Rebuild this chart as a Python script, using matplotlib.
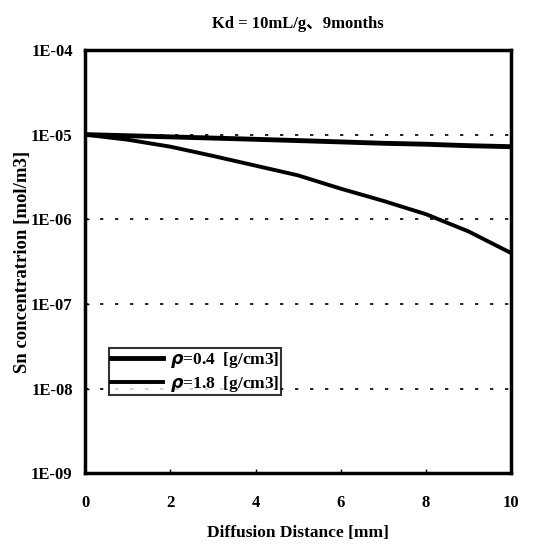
import numpy as np
import matplotlib
matplotlib.use('Agg')
import matplotlib.pyplot as plt
from matplotlib.ticker import FixedLocator, FixedFormatter, NullLocator

plt.rcParams['font.family'] = ['Liberation Serif', 'Noto Sans CJK JP', 'DejaVu Sans']
plt.rcParams['font.weight'] = 'bold'

# data
dist = [0, 1, 2, 3, 4, 5, 6, 7, 8, 9, 10]
conc_04 = [1.0e-5, 9.7e-6, 9.4e-6, 9.1e-6, 8.8e-6, 8.5e-6, 8.2e-6, 7.9e-6, 7.7e-6, 7.4e-6, 7.2e-6]
conc_18 = [1.0e-5, 8.7e-6, 7.2e-6, 5.6e-6, 4.3e-6, 3.3e-6, 2.3e-6, 1.65e-6, 1.15e-6, 7.2e-7, 4.0e-7]
label_04 = r'$\rho$=0.4  [g/cm3]'
label_18 = r'$\rho$=1.8  [g/cm3]'
ytick_vals = [1e-9, 1e-8, 1e-7, 1e-6, 1e-5, 1e-4]
ytick_labels = ['1E-09', '1E-08', '1E-07', '1E-06', '1E-05', '1E-04']

fig = plt.figure(figsize=(5.5, 5.49), dpi=100)
ax = fig.add_axes([0.155, 0.138, 0.774, 0.771])

# dotted horizontal grid
for v in ytick_vals[1:-1]:
    ax.axhline(v, color='black', lw=1.2, linestyle=(0, (2, 7)), zorder=1)

ax.plot(dist, conc_04, color='black', lw=3.5, label=label_04, zorder=3)
ax.plot(dist, conc_18, color='black', lw=2.8, label=label_18, zorder=3)

ax.set_yscale('log')
ax.set_ylim(1e-9, 1e-4)
ax.set_xlim(0, 10)
ax.yaxis.set_major_locator(FixedLocator(ytick_vals))
ax.yaxis.set_major_formatter(FixedFormatter(ytick_labels))
ax.yaxis.set_minor_locator(NullLocator())
ax.set_xticks([0, 2, 4, 6, 8, 10])
ax.tick_params(direction='in', length=3, width=1, labelsize=12)
ax.tick_params(axis='y', pad=9)
ax.tick_params(axis='x', pad=16)

for s in ax.spines.values():
    s.set_linewidth(2.5)

ax.set_title('Kd = 10mL/g、9months', fontsize=12, fontweight='bold', pad=16)
ax.set_xlabel('Diffusion Distance [mm]', fontsize=12.5, fontweight='bold', labelpad=10)
ax.set_ylabel('Sn concentratrion [mol/m3]', fontsize=13.5, fontweight='bold', labelpad=0)

leg = ax.legend(loc='lower left', bbox_to_anchor=(0.056, 0.184), fontsize=12.5,
                frameon=True, fancybox=False, handlelength=3.0, borderpad=0.1,
                labelspacing=0.2, handletextpad=0.4, borderaxespad=0)
leg.get_frame().set_edgecolor('black')
leg.get_frame().set_linewidth(1.5)

fig.savefig('out.png', dpi=100)
